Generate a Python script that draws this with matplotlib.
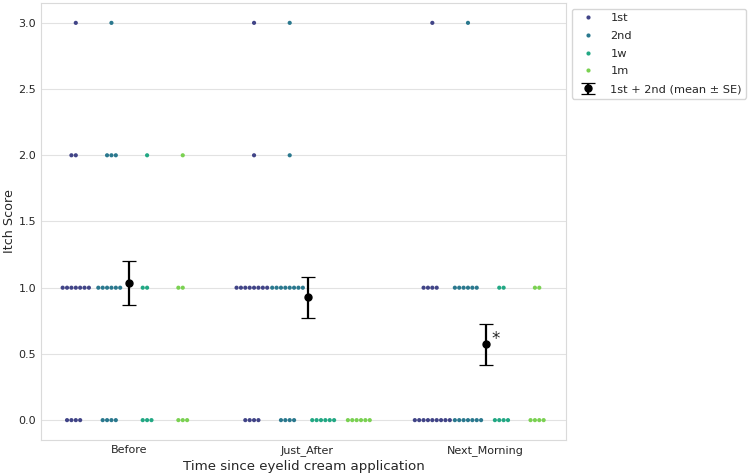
import numpy as np
import pandas as pd
import matplotlib
matplotlib.use('Agg')
import matplotlib.pyplot as plt
import seaborn as sns

# categories
times = ['Before', 'Just_After', 'Next_Morning']
groups = ['1st', '2nd', '1w', '1m']
scores = [0, 1, 2, 3]

# number of subjects at each itch score (0, 1, 2, 3)
before_1st = [4, 7, 2, 1]
before_2nd = [4, 6, 3, 1]
before_1w = [3, 2, 1, 0]
before_1m = [3, 2, 1, 0]

just_after_1st = [4, 8, 1, 1]
just_after_2nd = [4, 8, 1, 1]
just_after_1w = [6, 0, 0, 0]
just_after_1m = [6, 0, 0, 0]

next_morning_1st = [9, 4, 0, 1]
next_morning_2nd = [7, 6, 0, 1]
next_morning_1w = [4, 2, 0, 0]
next_morning_1m = [4, 2, 0, 0]

counts = {
  'Before': [before_1st, before_2nd, before_1w, before_1m],
  'Just_After': [just_after_1st, just_after_2nd, just_after_1w, just_after_1m],
  'Next_Morning': [next_morning_1st, next_morning_2nd, next_morning_1w, next_morning_1m],
}

# Build long table
rows = []
for t in times:
  for g, c in zip(groups, counts[t]):
    for s, n in zip(scores, c):
      rows += [(t, g, s)] * n
df = pd.DataFrame(rows, columns=['Time', 'Group', 'Score'])

sns.set_style('whitegrid', {'grid.color': '#e2e2e2', 'axes.edgecolor': '#dadada'})
plt.rcParams['font.family'] = ['DejaVu Sans']

fig = plt.figure(figsize=(7.5, 4.75), dpi=100)
ax = fig.add_axes([0.0547, 0.0737, 0.7, 0.92])

palette = sns.color_palette('viridis', 4)
sns.swarmplot(data=df, x='Time', y='Score', hue='Group', order=times,
              hue_order=groups, palette=palette, dodge=True, size=3.0, ax=ax)

# mean +- SE of 1st + 2nd
sub = df[df['Group'].isin(['1st', '2nd'])]
means = sub.groupby('Time')['Score'].mean().reindex(times)
ses = sub.groupby('Time')['Score'].sem().reindex(times)
ax.errorbar(np.arange(len(times)), means.values, yerr=ses.values, fmt='o',
            color='black', markersize=5, elinewidth=1.6, capsize=4.7,
            capthick=0.9, label='1st + 2nd (mean ± SE)', zorder=5)
ax.annotate('*', (2, means.values[2]), xytext=(4, 4), textcoords='offset points',
            ha='left', va='center', fontsize=12)

ax.set_xlim(-0.495, 2.45)
ax.set_ylim(-0.15, 3.15)
ax.set_yticks([0, 0.5, 1, 1.5, 2, 2.5, 3])
ax.set_yticklabels(['0.0', '0.5', '1.0', '1.5', '2.0', '2.5', '3.0'])
ax.tick_params(labelsize=8, length=0, pad=3.5, colors='#262626')
ax.set_xlabel('Time since eyelid cream application', fontsize=9.6, labelpad=3)
ax.set_ylabel('Itch Score', fontsize=9.2, labelpad=1.5)
ax.xaxis.grid(False)

handles, labels = ax.get_legend_handles_labels()
ax.legend(handles, labels, loc='upper left', bbox_to_anchor=(1, 1), fontsize=8.2,
          labelspacing=0.68, handletextpad=1.0)

plt.savefig('out.png', dpi=100)
